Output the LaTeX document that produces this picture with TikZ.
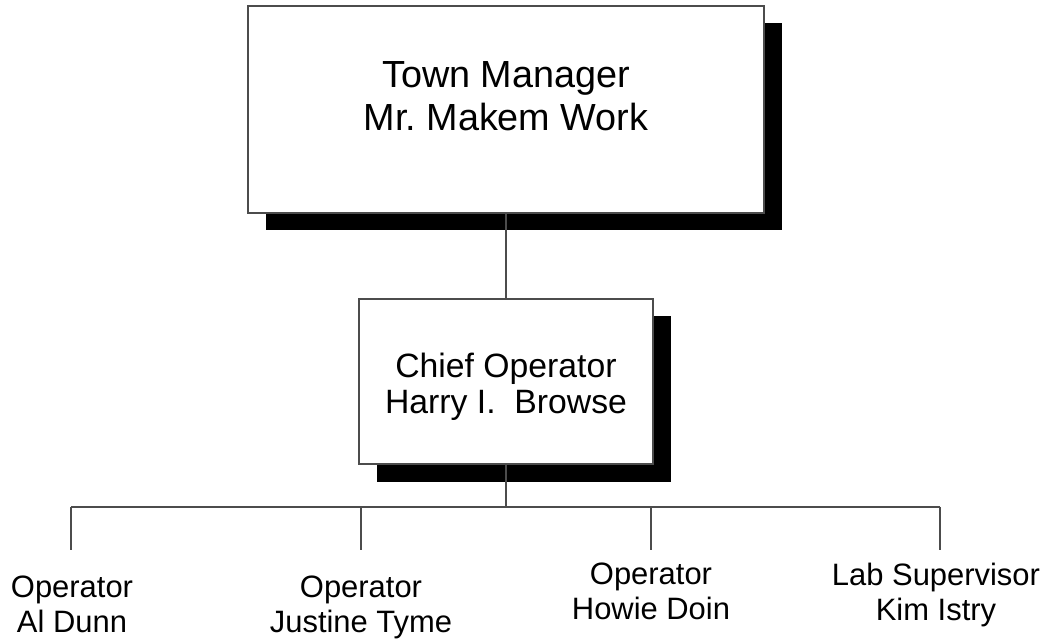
\documentclass[tikz,border=0pt]{standalone}
\usepackage{fontspec}
\setmainfont{Liberation Sans}
\usetikzlibrary{shapes, positioning, shadows}

\begin{document}
\begin{tikzpicture}[
	boxed/.style={rectangle, draw=black!70, fill=white, line width=0.6pt, drop shadow={shadow xshift=0.35cm, shadow yshift=-0.35cm, fill=black, opacity=1}},
	staff/.style={anchor=north, inner sep=0pt, align=center, font=\fontsize{17.6}{19.6}\selectfont},
	wire/.style={draw=black!70, line width=0.6pt}
	]
	     \useasboundingbox (0,0) rectangle (21.06,-12.82);

	     % boxes %
		 \node[boxed, minimum width=10.32cm, minimum height=4.14cm] (tm) at (10.12,-2.19) {};
		 \node[align=center, font=\fontsize{21.5}{24.4}\selectfont] (tmname) at (10.12,-1.92) {Town Manager\\Mr.\ Makem Work};
		 \node[boxed, below of = tm, node distance=5.44cm, minimum width=5.88cm, minimum height=3.3cm] (co) {};
		 \node[below of = co, node distance=0.11cm, align=center, font=\fontsize{19.2}{20.5}\selectfont] (coname) {Chief Operator\\Harry I.\ \ Browse};

		 % bus %
		 \coordinate[below of = co, node distance=2.51cm] (bus);
		 \coordinate (b1) at (1.42,-10.14);
		 \coordinate (b2) at (7.22,-10.14);
		 \coordinate (b3) at (13.02,-10.14);
		 \coordinate (b4) at (18.80,-10.14);
		 \coordinate[below of = b1, node distance=0.86cm] (d1);
		 \coordinate[below of = b2, node distance=0.86cm] (d2);
		 \coordinate[below of = b3, node distance=0.86cm] (d3);
		 \coordinate[below of = b4, node distance=0.86cm] (d4);

		 % staff %
		 \node[staff] (op1) at (1.44,-11.52) {Operator\\Al Dunn};
		 \node[staff] (op2) at (7.22,-11.52) {Operator\\Justine Tyme};
		 \node[staff] (op3) at (13.02,-11.26) {Operator\\Howie Doin};
		 \node[staff] (lab) at (18.72,-11.26) {Lab Supervisor\\Kim Istry};

		 % edges %
		 \draw[wire] (tm) -- (co);
		 \draw[wire] (co) -- (bus);
		 \draw[wire] (b1) -- (b4);
		 \draw[wire] (b1) -- (d1);
		 \draw[wire] (b2) -- (d2);
		 \draw[wire] (b3) -- (d3);
		 \draw[wire] (b4) -- (d4);
\end{tikzpicture}
\end{document}
